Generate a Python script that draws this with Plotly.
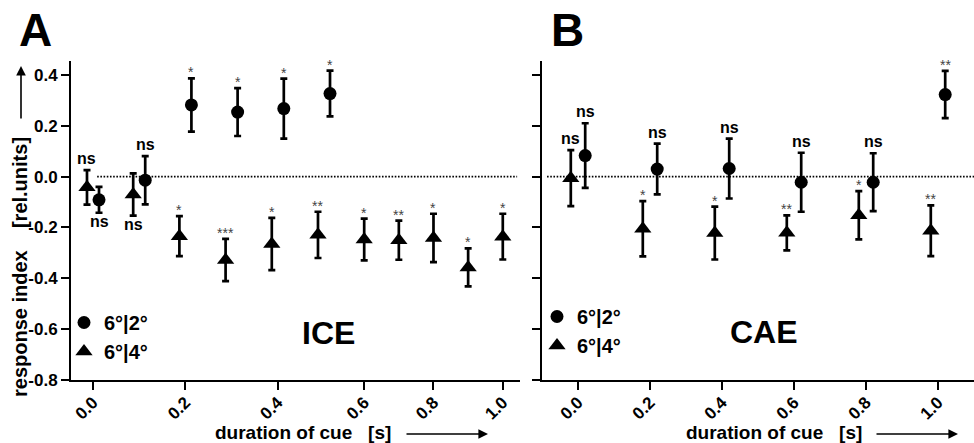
import numpy as np
import plotly.graph_objects as go

# ---------------- data ----------------
# Panel A (ICE)
A_CIRC_DUR = [0.0, 0.1, 0.2, 0.3, 0.4, 0.5]
A_CIRC_MEAN = [-0.091, -0.014, 0.282, 0.254, 0.268, 0.327]
A_CIRC_ERR = [0.051, 0.095, 0.105, 0.094, 0.118, 0.090]
A_CIRC_SIG = ["ns", "ns", "*", "*", "*", "*"]
A_CIRC_SIG_SIDE = ["below", "above", "above", "above", "above", "above"]

A_TRI_DUR = [0.0, 0.1, 0.2, 0.3, 0.4, 0.5, 0.6, 0.7, 0.8, 0.9, 1.0]
A_TRI_MEAN = [-0.042, -0.070, -0.234, -0.328, -0.265, -0.229, -0.247, -0.250, -0.241, -0.357, -0.236]
A_TRI_ERR = [0.068, 0.083, 0.079, 0.083, 0.103, 0.091, 0.082, 0.077, 0.095, 0.075, 0.090]
A_TRI_SIG = ["ns", "ns", "*", "***", "*", "**", "*", "**", "*", "*", "*"]
A_TRI_SIG_SIDE = ["above", "below"] + ["above"] * 9

# Panel B (CAE)
B_DUR = [0.0, 0.2, 0.4, 0.6, 0.8, 1.0]
B_CIRC_MEAN = [0.083, 0.030, 0.032, -0.022, -0.022, 0.323]
B_CIRC_ERR = [0.127, 0.100, 0.118, 0.116, 0.114, 0.093]
B_CIRC_SIG = ["ns", "ns", "ns", "ns", "ns", "**"]
B_TRI_MEAN = [-0.006, -0.205, -0.222, -0.221, -0.152, -0.213]
B_TRI_ERR = [0.110, 0.109, 0.104, 0.069, 0.095, 0.100]
B_TRI_SIG = ["ns", "*", "*", "**", "*", "**"]

SERIES_NAMES = ["6°|2°", "6°|4°"]
X_TICKS = [0.0, 0.2, 0.4, 0.6, 0.8, 1.0]
Y_TICKS = [-0.8, -0.6, -0.4, -0.2, 0.0, 0.2, 0.4]

# Panel A uses a non-linear (piecewise) duration axis as in the original figure
A_SCALE_DUR = [0.0, 0.5, 0.6, 1.0]
A_SCALE_POS = [0.0, 5.0, 5.87, 8.87]


def a_pos(d):
    return np.interp(d, A_SCALE_DUR, A_SCALE_POS)


A_DODGE = 0.13   # axis units, only where both series exist
B_DODGE = 0.02

# ---------------- layout geometry (pixels) ----------------
W_PX, H_PX = 974, 443
L, T, R, B = 71, 61, 0, 63
PW, PH = W_PX - L - R, H_PX - T - B


def px_x(px):
    return (px - L) / PW


def px_y(py):
    return (T + PH - py) / PH


FONT = "Liberation Sans, Arial, Helvetica, sans-serif"

fig = go.Figure()

a_common = set(A_CIRC_DUR) & set(A_TRI_DUR)
a_circ_x = [a_pos(d) + (A_DODGE if d in a_common else 0) for d in A_CIRC_DUR]
a_tri_x = [a_pos(d) - (A_DODGE if d in a_common else 0) for d in A_TRI_DUR]
b_circ_x = [d + B_DODGE for d in B_DUR]
b_tri_x = [d - B_DODGE for d in B_DUR]

err_style = dict(type="data", thickness=2.7, width=3.5, color="black")


def add_series(x, y, err, symbol, size, name, xa, ya, legend):
    fig.add_trace(go.Scatter(
        x=x, y=y, mode="markers", name=name, legend=legend,
        xaxis=xa, yaxis=ya,
        marker=dict(symbol=symbol, size=size, color="black"),
        error_y=dict(array=err, **err_style),
        hoverinfo="skip",
    ))


add_series(a_circ_x, A_CIRC_MEAN, A_CIRC_ERR, "circle", 13, SERIES_NAMES[0], "x", "y", "legend")
add_series(a_tri_x, A_TRI_MEAN, A_TRI_ERR, "triangle-up", 15, SERIES_NAMES[1], "x", "y", "legend")
add_series(b_circ_x, B_CIRC_MEAN, B_CIRC_ERR, "circle", 13, SERIES_NAMES[0], "x2", "y2", "legend2")
add_series(b_tri_x, B_TRI_MEAN, B_TRI_ERR, "triangle-up", 15, SERIES_NAMES[1], "x2", "y2", "legend2")

annotations = []


def add_sig(xs, means, errs, sigs, sides, xref, yref):
    for x, m, e, s, side in zip(xs, means, errs, sigs, sides):
        star = s.startswith("*")
        if star:
            font = dict(family=FONT, size=14, color="#444")
        else:
            font = dict(family=FONT, size=16, color="black", weight="bold")
        if side == "above":
            annotations.append(dict(x=x, y=m + e, xref=xref, yref=yref, text=s,
                                    showarrow=False, yanchor="bottom",
                                    yshift=-4 if star else 1, font=font))
        else:
            annotations.append(dict(x=x, y=m - e, xref=xref, yref=yref, text=s,
                                    showarrow=False, yanchor="top",
                                    yshift=2, font=font))


add_sig(a_circ_x, A_CIRC_MEAN, A_CIRC_ERR, A_CIRC_SIG, A_CIRC_SIG_SIDE, "x", "y")
add_sig(a_tri_x, A_TRI_MEAN, A_TRI_ERR, A_TRI_SIG, A_TRI_SIG_SIDE, "x", "y")
add_sig(b_circ_x, B_CIRC_MEAN, B_CIRC_ERR, B_CIRC_SIG, ["above"] * 6, "x2", "y2")
add_sig(b_tri_x, B_TRI_MEAN, B_TRI_ERR, B_TRI_SIG, ["above"] * 6, "x2", "y2")

# panel letters and condition labels
for txt, cx, cy, size in [("A", 35, 30, 46), ("B", 567, 30, 46),
                          ("ICE", 328, 333, 32), ("CAE", 764, 332, 32)]:
    annotations.append(dict(x=px_x(cx), y=px_y(cy), xref="paper", yref="paper",
                            text=txt, showarrow=False, xanchor="center", yanchor="middle",
                            font=dict(family=FONT, size=size, color="black", weight="bold")))

# axis titles
NB = "\u00a0"
annotations.append(dict(x=px_x(20), y=px_y(267), xref="paper", yref="paper",
                        text="response index" + NB * 4 + "[rel.units]", textangle=-90,
                        showarrow=False, xanchor="center", yanchor="middle",
                        font=dict(family=FONT, size=20, color="black", weight="bold")))
annotations.append(dict(x=px_x(21), y=px_y(66), xref="paper", yref="paper", text="",
                        showarrow=True, ax=0, ay=54, arrowhead=2, arrowsize=1.2,
                        arrowwidth=1.6, arrowcolor="black"))
for cx, ahead in [(303, 488), (774, 958)]:
    annotations.append(dict(x=px_x(cx), y=px_y(432), xref="paper", yref="paper",
                            text="duration of cue" + NB * 3 + "[s]", showarrow=False,
                            xanchor="center", yanchor="middle",
                            font=dict(family=FONT, size=19, color="black", weight="bold")))
    annotations.append(dict(x=px_x(ahead), y=px_y(434), xref="paper", yref="paper", text="",
                            showarrow=True, ax=-83, ay=0, arrowhead=2, arrowsize=1.2,
                            arrowwidth=1.6, arrowcolor="black"))

# dotted zero reference lines
shapes = [
    dict(type="line", xref="x", yref="y", x0=0.09, x1=9.18, y0=0, y1=0,
         line=dict(color="black", width=1.6, dash="1.6px,1.6px")),
    dict(type="line", xref="x2", yref="y2", x0=-0.086, x1=1.1, y0=0, y1=0,
         line=dict(color="black", width=1.6, dash="1.6px,1.6px")),
]

tick_font = dict(family=FONT, size=17, color="black", weight="bold")
axis_common = dict(showline=True, linewidth=2, linecolor="black", ticks="outside",
                   ticklen=8, tickwidth=2, tickcolor="black", showgrid=False,
                   zeroline=False, tickfont=tick_font)
ytext = [f"{v:.1f}" for v in Y_TICKS]
xtext = [f"{v:.1f}" for v in X_TICKS]

a_end = (520 - L) / PW
b_start = (542 - L) / PW
a_left = (L - 93) / 46.2
a_right = (520 - 93) / 46.2

fig.update_layout(
    width=W_PX, height=H_PX,
    margin=dict(l=L, r=R, t=T, b=B),
    paper_bgcolor="white", plot_bgcolor="white",
    font=dict(family=FONT, color="black"),
    xaxis=dict(domain=[0, a_end], range=[a_left, a_right], anchor="y",
               tickvals=list(a_pos(X_TICKS)), ticktext=xtext, tickangle=-45,
               ticklabelstandoff=-4, **axis_common),
    yaxis=dict(domain=[0, 1], range=[-0.8, 0.455], anchor="x",
               tickvals=Y_TICKS, ticktext=ytext, **axis_common),
    xaxis2=dict(domain=[b_start, 1], range=[-0.1, 1.1], anchor="y2",
                tickvals=X_TICKS, ticktext=xtext, tickangle=-45,
                ticklabelstandoff=-4, **axis_common),
    yaxis2=dict(domain=[0, 1], range=[-0.8, 0.455], anchor="x2",
                tickvals=Y_TICKS, showticklabels=False, **axis_common),
    legend=dict(x=px_x(64), y=px_y(303), xanchor="left", yanchor="top",
                bgcolor="rgba(0,0,0,0)", font=dict(family=FONT, size=20, weight="bold"),
                tracegroupgap=0, itemclick=False, itemdoubleclick=False),
    legend2=dict(x=px_x(537), y=px_y(297), xanchor="left", yanchor="top",
                 bgcolor="rgba(0,0,0,0)", font=dict(family=FONT, size=20, weight="bold"),
                 tracegroupgap=0, itemclick=False, itemdoubleclick=False),
    showlegend=True,
    annotations=annotations,
    shapes=shapes,
)

fig.write_html("out.html", config={"displayModeBar": False},
               post_script="document.body.style.margin='0';")
